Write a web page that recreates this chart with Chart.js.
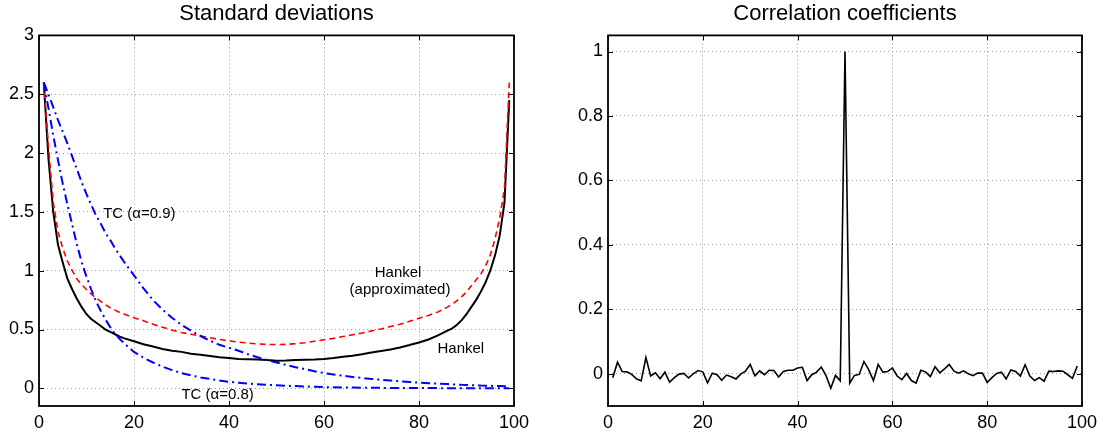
<!DOCTYPE html>
<html>
<head>
<meta charset="utf-8">
<script src="https://cdn.jsdelivr.net/npm/chart.js@4.4.0/dist/chart.umd.min.js"></script>
<style>
  body { margin: 0; background: #fff; }
  #wrap { position: relative; width: 1103px; height: 436px; }
  canvas { position: absolute; top: 0; }
</style>
</head>
<body>
<div id="wrap">
  <canvas id="stdChart" width="551" height="436" style="left:0"></canvas>
  <canvas id="corrChart" width="552" height="436" style="left:551px"></canvas>
</div>
<script>
// x positions shared by the four standard-deviation curves
const stdX = [1, 2, 3, 4, 5, 6, 7, 8, 9, 10, 11, 12, 13, 14, 15, 16, 17, 18, 20, 22, 24, 26, 28, 30,
  32, 34, 36, 38, 40, 42, 44, 46, 48, 50, 52, 54, 56, 58, 60, 62, 64, 66, 68, 70, 72, 74, 76, 78,
  80, 82, 84, 86, 87, 88, 89, 90, 91, 92, 93, 94, 95, 96, 97, 98, 99];

const hankel = [2.60, 1.95, 1.50, 1.22, 1.07, 0.93, 0.84, 0.76, 0.69, 0.63, 0.59, 0.56, 0.53, 0.50,
  0.48, 0.46, 0.44, 0.425, 0.40, 0.375, 0.355, 0.335, 0.32, 0.31, 0.295, 0.285, 0.275, 0.265, 0.257,
  0.25, 0.248, 0.245, 0.24, 0.235, 0.236, 0.24, 0.244, 0.245, 0.25, 0.258, 0.268, 0.278, 0.29, 0.305,
  0.317, 0.33, 0.348, 0.368, 0.39, 0.415, 0.45, 0.49, 0.51, 0.54, 0.58, 0.63, 0.69, 0.75, 0.82, 0.90,
  1.00, 1.13, 1.30, 1.58, 2.45];

const hankelApprox = [2.60, 2.05, 1.58, 1.33, 1.19, 1.08, 1.00, 0.93, 0.88, 0.84, 0.80, 0.77, 0.74,
  0.71, 0.685, 0.665, 0.645, 0.63, 0.60, 0.575, 0.545, 0.52, 0.495, 0.475, 0.46, 0.445, 0.43, 0.415,
  0.403, 0.393, 0.385, 0.378, 0.373, 0.372, 0.374, 0.38, 0.388, 0.40, 0.413, 0.425, 0.44, 0.455, 0.47,
  0.488, 0.505, 0.525, 0.545, 0.57, 0.595, 0.62, 0.65, 0.69, 0.715, 0.745, 0.78, 0.82, 0.87, 0.92,
  0.97, 1.04, 1.13, 1.27, 1.45, 1.70, 2.60];

const tc09 = [2.60, 2.50, 2.39, 2.28, 2.18, 2.08, 1.97, 1.86, 1.75, 1.65, 1.56, 1.47, 1.40, 1.32,
  1.26, 1.19, 1.13, 1.07, 0.96, 0.85, 0.75, 0.67, 0.60, 0.54, 0.49, 0.445, 0.405, 0.37, 0.345, 0.32,
  0.29, 0.265, 0.24, 0.22, 0.20, 0.18, 0.163, 0.145, 0.13, 0.118, 0.107, 0.097, 0.088, 0.08, 0.073,
  0.066, 0.06, 0.054, 0.048, 0.044, 0.04, 0.036, 0.034, 0.032, 0.03, 0.029, 0.027, 0.026, 0.024,
  0.023, 0.022, 0.02, 0.019, 0.018, 0.017];

const tc08 = [2.60, 2.38, 2.15, 1.94, 1.74, 1.56, 1.39, 1.22, 1.07, 0.95, 0.84, 0.74, 0.66, 0.585,
  0.52, 0.465, 0.42, 0.38, 0.31, 0.26, 0.22, 0.185, 0.155, 0.13, 0.11, 0.093, 0.08, 0.067, 0.056,
  0.048, 0.041, 0.035, 0.03, 0.026, 0.022, 0.019, 0.016, 0.013, 0.011, 0.009, 0.008, 0.007, 0.006,
  0.005, 0.004, 0.004, 0.003, 0.003, 0.002, 0.002, 0.002, 0.001, 0.001, 0.001, 0.001, 0.001, 0.001,
  0.001, 0.001, 0.001, 0.001, 0.001, 0.001, 0.001, 0.001];

// correlation coefficients at lags 1..99
const corrX = Array.from({ length: 99 }, (_, i) => i + 1);
const corr = [-0.012, 0.036, 0.007, 0.006, -0.002, -0.016, -0.022, 0.05, -0.007, 0.003,
  -0.015, 0.005, -0.026, -0.012, -0.001, 0.001, -0.013, 0, 0.01, 0.006,
  -0.028, 0.002, -0.003, -0.02, -0.004, -0.009, -0.016, -0.001, 0.008, 0.029,
  -0.006, 0.009, -0.003, 0.011, 0.01, -0.01, 0.007, 0.011, 0.011, 0.018,
  0.02, -0.021, -0.003, 0.005, 0.021, -0.006, -0.045, -0.005, -0.022, 1.0,
  -0.029, -0.005, -0.002, 0.038, 0.013, -0.021, 0.029, 0.005, 0.007, 0.018,
  -0.007, -0.018, 0.001, -0.021, -0.029, 0.011, 0.006, -0.009, 0.022, 0.003,
  0.015, 0.029, 0.008, 0.002, 0.009, 0, -0.006, 0.002, 0.002, -0.027,
  -0.012, 0.001, 0.005, -0.016, 0.012, 0.007, -0.007, 0.028, -0.007, -0.021,
  -0.012, -0.023, 0.008, 0.007, 0.009, 0.008, -0.003, -0.014, 0.024];

// tick labels
const xTicks = [0, 20, 40, 60, 80, 100];
const stdYTicks = [0, 0.5, 1, 1.5, 2, 2.5, 3];
const corrYTicks = [0, 0.2, 0.4, 0.6, 0.8, 1];

// curve labels inside the left panel (data coordinates)
const stdLabels = [
  { text: 'TC (\u03b1=0.9)', x: 13.5, y: 1.48, align: 'left' },
  { text: 'Hankel', x: 75.6, y: 0.98, align: 'center' },
  { text: '(approximated)', x: 76, y: 0.84, align: 'center' },
  { text: 'Hankel', x: 88.8, y: 0.338, align: 'center' },
  { text: 'TC (\u03b1=0.8)', x: 37.6, y: -0.054, align: 'center' }
];

const FONT = '"Liberation Sans", Arial, Helvetica, sans-serif';

const toPoints = (xs, ys) => xs.map((x, i) => ({ x: x, y: ys[i] }));

// box around the plot area with inward ticks on all four sides
const frameTicks = {
  id: 'frameTicks',
  afterDraw(chart) {
    const { ctx, chartArea: a, scales } = chart;
    const len = 5;
    ctx.save();
    ctx.strokeStyle = '#000';
    ctx.lineWidth = 1;
    ctx.beginPath();
    scales.x.ticks.forEach(t => {
      const px = Math.round(scales.x.getPixelForValue(t.value)) + 0.5;
      ctx.moveTo(px, a.bottom); ctx.lineTo(px, a.bottom - len);
      ctx.moveTo(px, a.top); ctx.lineTo(px, a.top + len);
    });
    scales.y.ticks.forEach(t => {
      const py = Math.round(scales.y.getPixelForValue(t.value)) + 0.5;
      ctx.moveTo(a.left, py); ctx.lineTo(a.left + len, py);
      ctx.moveTo(a.right, py); ctx.lineTo(a.right - len, py);
    });
    ctx.stroke();
    ctx.lineWidth = 1.8;
    ctx.strokeRect(a.left, a.top, a.right - a.left, a.bottom - a.top);
    ctx.restore();
  }
};

const curveLabels = {
  id: 'curveLabels',
  afterDatasetsDraw(chart, args, opts) {
    if (!opts.items) return;
    const { ctx, scales } = chart;
    ctx.save();
    ctx.fillStyle = '#000';
    ctx.font = '15px ' + FONT;
    ctx.textBaseline = 'middle';
    opts.items.forEach(l => {
      ctx.textAlign = l.align;
      ctx.fillText(l.text, scales.x.getPixelForValue(l.x), scales.y.getPixelForValue(l.y));
    });
    ctx.restore();
  }
};

function axes(yMin, yMax, yTicks, yWidth) {
  const grid = { color: '#9a9a9a', lineWidth: 1, drawTicks: false };
  const border = { display: false, dash: [1, 3] };
  return {
    x: {
      type: 'linear', min: 0, max: 100,
      afterBuildTicks: axis => { axis.ticks = xTicks.map(v => ({ value: v })); },
      afterFit: axis => { axis.height = 30; },
      ticks: { padding: 6, color: '#000', font: { family: FONT, size: 18 }, callback: v => String(v), maxRotation: 0 },
      grid: grid, border: border
    },
    y: {
      type: 'linear', min: yMin, max: yMax,
      afterBuildTicks: axis => { axis.ticks = yTicks.map(v => ({ value: v })); },
      afterFit: axis => { axis.width = yWidth; },
      ticks: { padding: 5, color: '#000', font: { family: FONT, size: 18 }, callback: v => String(v) },
      grid: grid, border: border
    }
  };
}

function titleOpts(text) {
  return {
    display: true, text: text, fullSize: false, color: '#000',
    font: { family: FONT, size: 22, weight: 'normal' },
    padding: { top: 1, bottom: 8 }
  };
}

// left panel: standard deviations
new Chart(document.getElementById('stdChart'), {
  type: 'line',
  data: {
    datasets: [
      { label: 'TC (\u03b1=0.8)', data: toPoints(stdX, tc08), borderColor: '#0000ff', borderWidth: 2, borderDash: [9, 4, 2, 4] },
      { label: 'TC (\u03b1=0.9)', data: toPoints(stdX, tc09), borderColor: '#0000ff', borderWidth: 2, borderDash: [9, 4, 2, 4] },
      { label: 'Hankel (approximated)', data: toPoints(stdX, hankelApprox), borderColor: '#ff0000', borderWidth: 1.6, borderDash: [6, 4] },
      { label: 'Hankel', data: toPoints(stdX, hankel), borderColor: '#000', borderWidth: 2 }
    ]
  },
  options: {
    responsive: false, animation: false, devicePixelRatio: 1,
    elements: { point: { radius: 0 }, line: { tension: 0 } },
    layout: { padding: { left: 0, right: 37, top: 0, bottom: 0 } },
    scales: axes(-0.15, 3, stdYTicks, 39),
    plugins: {
      legend: { display: false }, tooltip: { enabled: false },
      title: titleOpts('Standard deviations'),
      curveLabels: { items: stdLabels }
    }
  },
  plugins: [frameTicks, curveLabels]
});

// right panel: correlation coefficients
new Chart(document.getElementById('corrChart'), {
  type: 'line',
  data: {
    datasets: [
      { label: 'corr', data: toPoints(corrX, corr), borderColor: '#000', borderWidth: 1.6 }
    ]
  },
  options: {
    responsive: false, animation: false, devicePixelRatio: 1,
    elements: { point: { radius: 0 }, line: { tension: 0 } },
    layout: { padding: { left: 0, right: 19, top: 0, bottom: 0 } },
    scales: axes(-0.1, 1.05, corrYTicks, 57),
    plugins: {
      legend: { display: false }, tooltip: { enabled: false },
      title: titleOpts('Correlation coefficients')
    }
  },
  plugins: [frameTicks]
});
</script>
</body>
</html>
